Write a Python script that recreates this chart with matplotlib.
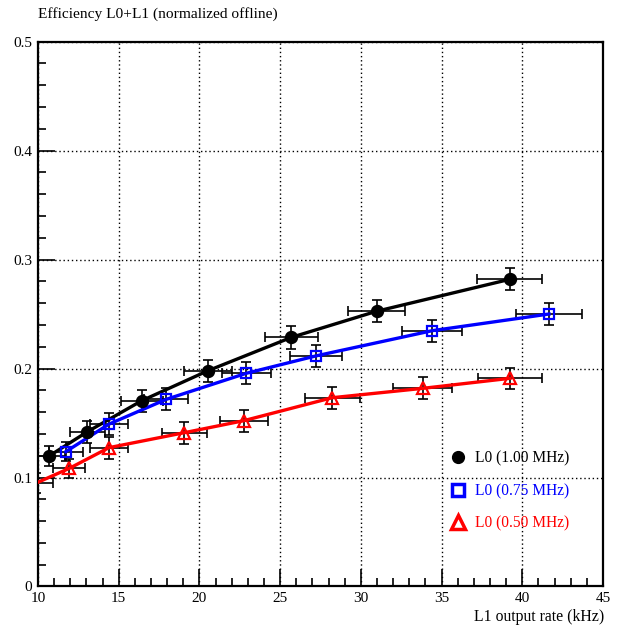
import matplotlib
matplotlib.use("Agg")
import matplotlib.pyplot as plt
from matplotlib.ticker import MultipleLocator
from matplotlib.lines import Line2D

# L1 output rate (kHz) and efficiency for three L0 rates
x_100 = [10.68, 13.06, 16.43, 20.53, 25.70, 30.97, 39.22]
y_100 = [0.1197, 0.1420, 0.1705, 0.1980, 0.2286, 0.2525, 0.2818]
xe_100 = [0.97, 1.10, 1.30, 1.48, 1.62, 1.78, 2.00]
ye_100 = [0.009, 0.010, 0.010, 0.010, 0.0105, 0.010, 0.010]

x_075 = [11.72, 14.40, 17.94, 22.90, 27.20, 34.42, 41.66]
y_075 = [0.1237, 0.1490, 0.1717, 0.1956, 0.2115, 0.2347, 0.2500]
xe_075 = [1.05, 1.18, 1.38, 1.53, 1.62, 1.86, 2.07]
ye_075 = [0.009, 0.010, 0.010, 0.010, 0.010, 0.010, 0.010]

x_050 = [9.90, 11.94, 14.40, 19.06, 22.74, 28.22, 33.84, 39.24]
y_050 = [0.0950, 0.1084, 0.1274, 0.1411, 0.1521, 0.1732, 0.1818, 0.1910]
xe_050 = [1.05, 1.00, 1.18, 1.40, 1.49, 1.70, 1.83, 2.00]
ye_050 = [0.009, 0.009, 0.010, 0.010, 0.010, 0.010, 0.010, 0.0096]

labels = ["L0 (1.00 MHz)", "L0 (0.75 MHz)", "L0 (0.50 MHz)"]
colors = ["black", "#0000ff", "#ff0000"]

XMIN, XMAX = 10, 45

plt.rcParams["font.family"] = ["Liberation Serif", "DejaVu Serif"]

fig = plt.figure(figsize=(6.37, 6.26), dpi=100)
ax = fig.add_axes([0.0597, 0.0631, 0.8869, 0.8706])
ax.set_xlim(XMIN, XMAX)
ax.set_ylim(0, 0.5)

series = [
    (x_100, y_100, xe_100, ye_100, "o", "black", "black", 8),
    (x_075, y_075, xe_075, ye_075, "s", "#0000ff", "none", 7.5),
    (x_050, y_050, xe_050, ye_050, "^", "#ff0000", "none", 8.5),
]
for xs, ys, xe, ye, mk, col, fc, ms in series:
    ax.errorbar(xs, ys, xerr=xe, yerr=ye, fmt="none", ecolor="black",
                elinewidth=1.2, capsize=3.3, capthick=1.2, zorder=3)
    ax.plot(xs, ys, color=col, lw=2.4, zorder=4)
    # like ROOT, markers whose centre falls outside the frame are not drawn
    inside = [(a, b) for a, b in zip(xs, ys) if XMIN <= a <= XMAX]
    ax.plot([p[0] for p in inside], [p[1] for p in inside], ls="none",
            marker=mk, ms=ms, mfc=fc, mec=col, mew=1.6, zorder=5)

ax.grid(True, color="black", ls=(0, (1, 2)), lw=1.0)
ax.xaxis.set_major_locator(MultipleLocator(5))
ax.xaxis.set_minor_locator(MultipleLocator(1))
ax.yaxis.set_major_locator(MultipleLocator(0.1))
ax.yaxis.set_minor_locator(MultipleLocator(0.02))
ax.tick_params(which="both", direction="in", top=False, right=False,
               labelsize=11, width=1.2)
ax.tick_params(which="major", length=12, pad=4)
ax.tick_params(which="minor", length=6)
ax.set_yticks([0, 0.1, 0.2, 0.3, 0.4, 0.5])
ax.set_yticklabels(["0", "0.1", "0.2", "0.3", "0.4", "0.5"])
for s in ax.spines.values():
    s.set_linewidth(1.6)

fig.text(0.059, 0.978, "Efficiency L0+L1 (normalized offline)",
         fontsize=11.1, ha="left", va="center")
fig.text(0.948, 0.015, "L1 output rate (kHz)", fontsize=11.3,
         ha="right", va="center")

handles = [
    Line2D([], [], ls="none", marker="o", ms=8.5, mfc="black", mec="black"),
    Line2D([], [], ls="none", marker="s", ms=8.5, mfc="none", mec="#0000ff", mew=2.5),
    Line2D([], [], ls="none", marker="^", ms=9.5, mfc="none", mec="#ff0000", mew=2.5),
]
leg = ax.legend(handles, labels, loc="upper left", bbox_to_anchor=(0.705, 0.275),
                frameon=False, fontsize=11.2, handlelength=1.0, handletextpad=0.6,
                labelspacing=1.05)
for t, c in zip(leg.get_texts(), colors):
    t.set_color(c)

fig.savefig("out.png", dpi=100)
